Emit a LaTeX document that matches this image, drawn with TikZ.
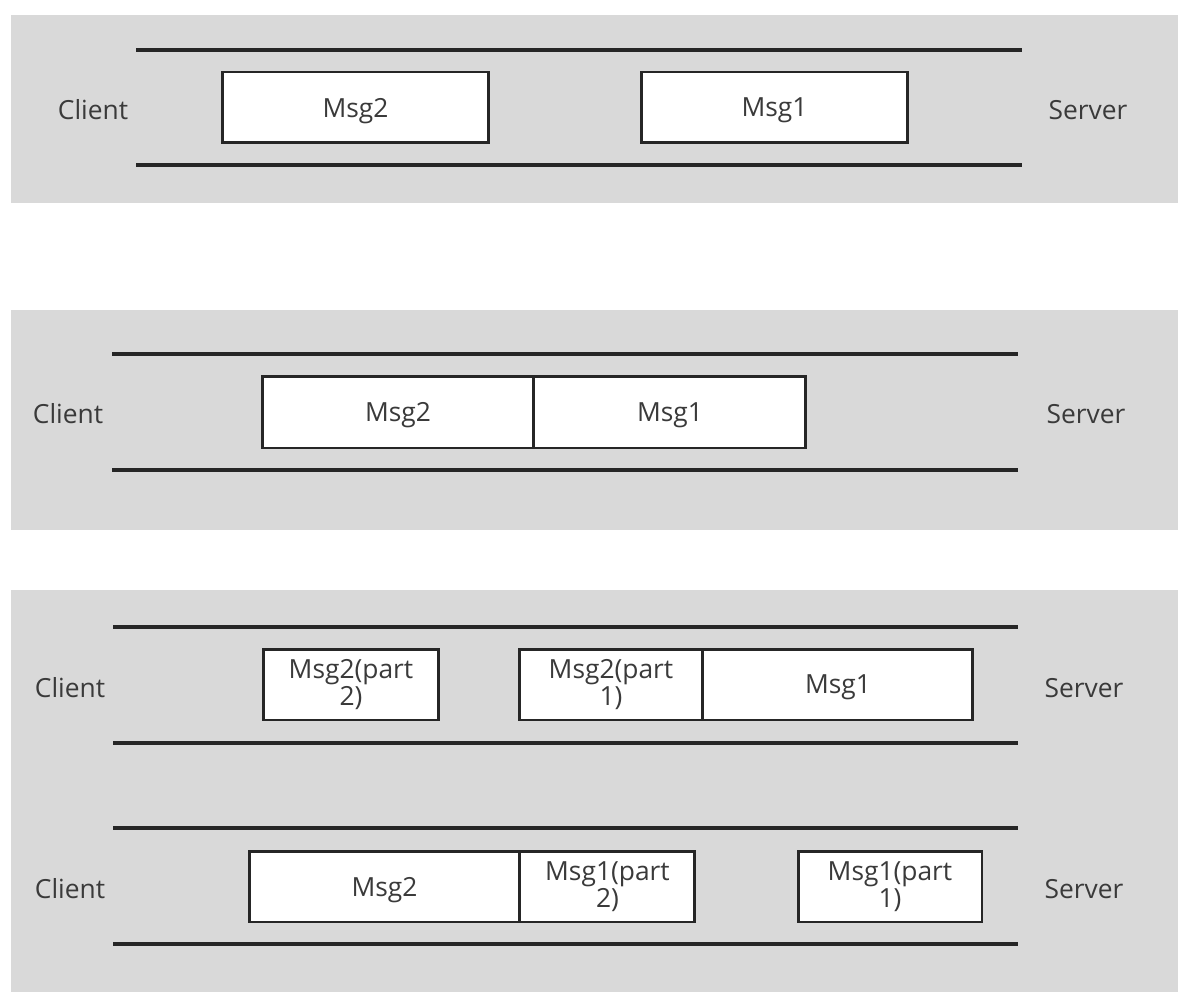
\documentclass[tikz,border=0pt]{standalone}
\usepackage{fontspec}
\setmainfont{Open Sans}
\usepackage{tikz}
\usetikzlibrary{positioning}
\definecolor{panelgray}{HTML}{D9D9D9}
\definecolor{inkgray}{HTML}{262626}
\definecolor{labelgray}{HTML}{3A3A3A}
\tikzset{
	panel/.style={fill=panelgray, draw=none},
	pipe/.style={line width=2.1pt, color=inkgray},
	msgbox/.style={draw=inkgray, fill=white, line width=1.7pt, outer sep=0pt,
		minimum height=1.42cm, inner sep=0pt, align=center, text=labelgray,
		font=\fontsize{15}{13.5}\selectfont},
	onebox/.style={msgbox, text depth=0pt},
	endlabel/.style={text=labelgray, font=\fontsize{15}{18}\selectfont}
}

\begin{document}
\begin{tikzpicture}[x=0.02cm, y=-0.02cm]
		%%%%% START %%%%%
		\useasboundingbox (0, 0) rectangle (1189, 1000);
		
		% first panel
		\fill[panel] (11, 15) rectangle (1178, 203);
		\draw[pipe] (136, 50) -- (1022, 50);
		\draw[pipe] (136, 165) -- (1022, 165);
		\node[onebox, minimum width=5.34cm] (p1msg2) at (355.5, 107.5) {Msg2};
		\node[onebox, minimum width=5.34cm] (p1msg1) at (774.5, 107.5) {Msg1};
		\node[endlabel] (p1client) at (93, 110) {Client};
		\node[endlabel] (p1server) at (1088, 110) {Server};
		
		% second panel
		\fill[panel] (11, 310) rectangle (1178, 530);
		\draw[pipe] (112, 354) -- (1018, 354);
		\draw[pipe] (112, 470) -- (1018, 470);
		\node[onebox, minimum width=5.44cm, minimum height=1.44cm] (p2msg2) at (398, 412) {Msg2};
		\node[onebox, minimum width=5.44cm, minimum height=1.44cm, right=0pt of p2msg2] (p2msg1) {Msg1};
		\node[endlabel] (p2client) at (68, 414) {Client};
		\node[endlabel] (p2server) at (1086, 414) {Server};
		
		% third panel
		\fill[panel] (11, 590) rectangle (1178, 992);
		\draw[pipe] (113, 627) -- (1018, 627);
		\draw[pipe] (113, 743) -- (1018, 743);
		\draw[pipe] (113, 828) -- (1018, 828);
		\draw[pipe] (113, 944) -- (1018, 944);
		
		\node[msgbox, minimum width=3.52cm] (p3msgb) at (351, 684.5) {Msg2(part\\2)};
		\node[msgbox, minimum width=3.68cm] (p3msga) at (611, 684.5) {Msg2(part\\1)};
		\node[onebox, minimum width=5.4cm, right=0pt of p3msga] (p3msg1) {Msg1};
		\node[endlabel] (p3clienta) at (70, 688) {Client};
		\node[endlabel] (p3servera) at (1084, 688) {Server};
		
		\node[onebox, minimum width=5.42cm] (p4msg2) at (384.5, 886.5) {Msg2};
		\node[msgbox, minimum width=3.5cm, right=0pt of p4msg2] (p4msgb) {Msg1(part\\2)};
		\node[msgbox, minimum width=3.68cm] (p4msga) at (890, 886.5) {Msg1(part\\1)};
		\node[endlabel] (p3clientb) at (70, 889) {Client};
		\node[endlabel] (p3serverb) at (1084, 889) {Server};
		
		%%%%% END %%%%%
	\end{tikzpicture}
\end{document}
